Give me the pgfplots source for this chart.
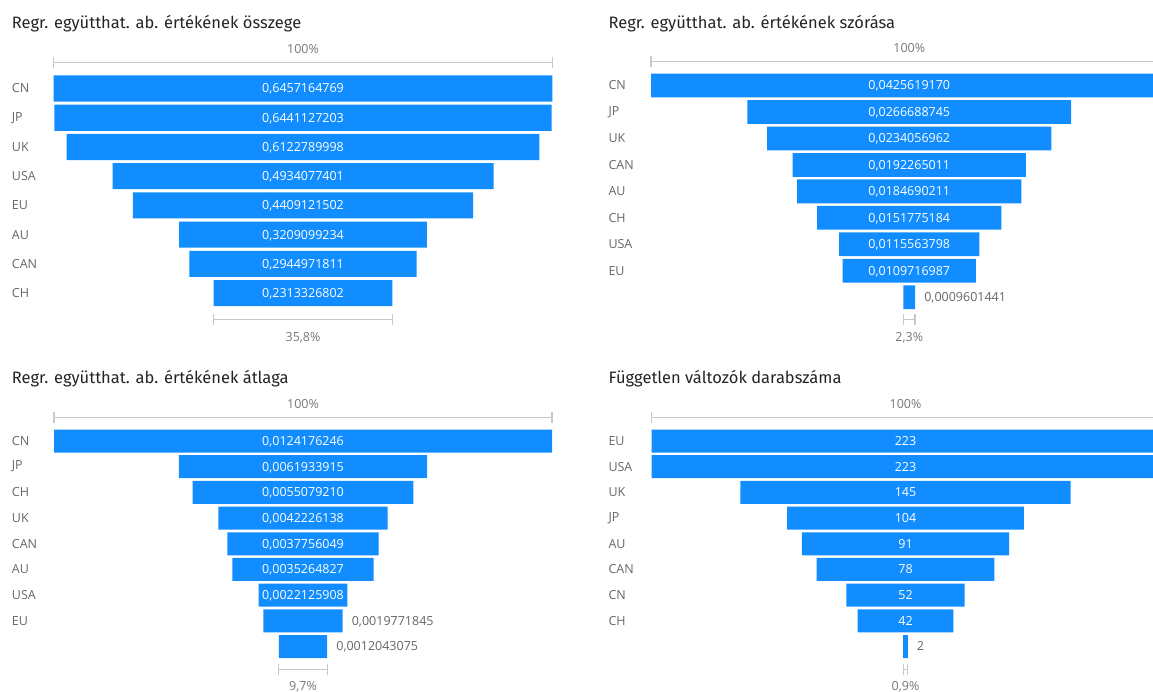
\documentclass[border=0pt]{standalone}
\usepackage{pgfplots}
\pgfplotsset{compat=1.18}
\usepackage{pgfplotstable}
\usepackage{fontspec}
\setmainfont{Open Sans}
\newfontfamily\titlefont{Fira Sans}

\definecolor{pbblue}{HTML}{118DFF}
\definecolor{titlegray}{HTML}{252423}
\definecolor{catgray}{HTML}{666666}
\definecolor{pctgray}{HTML}{777777}
\definecolor{brkgray}{HTML}{C8C8C8}

\newcommand\lbl{\fontsize{12.5pt}{14pt}\selectfont}
\newcommand\ttl{\titlefont\fontsize{16.5pt}{19pt}\selectfont}

% Sum of absolute regression coefficients
\pgfplotstableread{
cat v lbl
CN  0.6457164769 0,6457164769
JP  0.6441127203 0,6441127203
UK  0.6122789998 0,6122789998
USA 0.4934077401 0,4934077401
EU  0.4409121502 0,4409121502
AU  0.3209099234 0,3209099234
CAN 0.2944971811 0,2944971811
CH  0.2313326802 0,2313326802
}\tblsum

% Standard deviation of absolute regression coefficients
\pgfplotstableread{
cat v lbl
CN  0.0425619170 0,0425619170
JP  0.0266688745 0,0266688745
UK  0.0234056962 0,0234056962
CAN 0.0192265011 0,0192265011
AU  0.0184690211 0,0184690211
CH  0.0151775184 0,0151775184
USA 0.0115563798 0,0115563798
EU  0.0109716987 0,0109716987
{}  0.0009601441 0,0009601441
}\tblsd

% Mean of absolute regression coefficients
\pgfplotstableread{
cat v lbl
CN  0.0124176246 0,0124176246
JP  0.0061933915 0,0061933915
CH  0.0055079210 0,0055079210
UK  0.0042226138 0,0042226138
CAN 0.0037756049 0,0037756049
AU  0.0035264827 0,0035264827
USA 0.0022125908 0,0022125908
EU  0.0019771845 0,0019771845
{}  0.0012043075 0,0012043075
}\tblavg

% Number of independent variables
\pgfplotstableread{
cat v lbl
EU  223 223
USA 223 223
UK  145 145
JP  104 104
AU  91  91
CAN 78  78
CN  52  52
CH  42  42
{}  2   2
}\tblcnt

% the widest stage of each funnel is its first row
\pgfplotstablegetelem{0}{v}\of\tblsum \let\maxsum\pgfplotsretval
\pgfplotstablegetelem{0}{v}\of\tblsd  \let\maxsd\pgfplotsretval
\pgfplotstablegetelem{0}{v}\of\tblavg \let\maxavg\pgfplotsretval
\pgfplotstablegetelem{0}{v}\of\tblcnt \let\maxcnt\pgfplotsretval

\pgfplotsset{
  funnel/.style={
    scale only axis, anchor=north west,
    y dir=reverse,
    axis line style={draw=none},
    xtick=\empty,
    major tick length=0pt,
    xmin=0, xmax=#1,
    yticklabel style={anchor=west, inner sep=0pt, font=\lbl, text=catgray},
    clip=false,
  },
  % invisible spacer that centres each stage
  spacer/.style={xbar, stack plots=x, bar shift=0pt, draw=none, fill=none, forget plot},
  stage/.style={xbar, stack plots=x, bar shift=0pt, fill=pbblue, draw=none, forget plot},
  inlabel/.style={only marks, mark=none, forget plot, stack plots=false, nodes near coords,
    point meta=explicit symbolic,
    nodes near coords style={anchor=base, yshift=-4.4pt, text=white, font=\lbl, inner sep=0pt}},
  outlabel/.style={only marks, mark=none, forget plot, stack plots=false, nodes near coords,
    point meta=explicit symbolic,
    nodes near coords style={anchor=base west, xshift=9pt, yshift=-4.4pt, text=catgray, font=\lbl, inner sep=0pt}},
}
\tikzset{
  brk/.style={draw=brkgray, line width=1.2pt},
  pct/.style={font=\lbl, text=pctgray, inner sep=0pt},
}

\begin{document}
\begin{tikzpicture}
\useasboundingbox (0pt,0pt) rectangle (1153pt,-691pt);
\clip (0pt,0pt) rectangle (1153pt,-691pt);

% titles
\node[anchor=base west, inner sep=0pt, text=titlegray, font=\ttl] at (11.7pt,-28.3pt) {Regr. együtthat. ab. értékének összege};
\node[anchor=base west, inner sep=0pt, text=titlegray, font=\ttl] at (608.3pt,-28.3pt) {Regr. együtthat. ab. értékének szórása};
\node[anchor=base west, inner sep=0pt, text=titlegray, font=\ttl] at (11.7pt,-383.5pt) {Regr. együtthat. ab. értékének átlaga};
\node[anchor=base west, inner sep=0pt, text=titlegray, font=\ttl] at (608.3pt,-383.5pt) {Független változók darabszáma};

% ---- sum ----
\begin{axis}[funnel=\maxsum, at={(53.7pt,-62.3pt)}, width=498.6pt, height=257.2pt,
  ymin=0.104, ymax=8.9,
  ytick={1,...,8}, yticklabels from table={\tblsum}{cat},
  yticklabel style={xshift=-42pt}]
\addplot[spacer, bar width=0.89] table[x expr=(\maxsum-\thisrow{v})/2, y expr=\coordindex+1] {\tblsum};
\addplot[stage, bar width=0.89] table[x=v, y expr=\coordindex+1] {\tblsum};
\addplot[inlabel] table[x expr=\maxsum/2, y expr=\coordindex+1, meta=lbl] {\tblsum};
\draw[brk] (axis cs:0,0.104) -- (axis cs:\maxsum,0.104);
\draw[brk] (axis cs:0,0.104) ++(0pt,5.5pt) -- ++(0pt,-11pt);
\draw[brk] (axis cs:\maxsum,0.104) ++(0pt,5.5pt) -- ++(0pt,-11pt);
\node[pct, anchor=base, yshift=9pt] at (axis cs:\maxsum/2,0.104) {100\%};
\draw[brk] (axis cs:0.2072057984,8.9) -- (axis cs:0.4385384786,8.9);
\draw[brk] (axis cs:0.2072057984,8.9) ++(0pt,5.5pt) -- ++(0pt,-11pt);
\draw[brk] (axis cs:0.4385384786,8.9) ++(0pt,5.5pt) -- ++(0pt,-11pt);
\node[pct, anchor=base, yshift=-21.7pt] at (axis cs:\maxsum/2,8.9) {35,8\%};
\end{axis}

% ---- standard deviation ----
\begin{axis}[funnel=\maxsd, at={(651pt,-61.7pt)}, width=516.5pt, height=258pt,
  ymin=0.1, ymax=9.85,
  ytick={1,...,9}, yticklabels from table={\tblsd}{cat},
  yticklabel style={xshift=-42.7pt}]
\addplot[spacer, bar width=0.9] table[x expr=(\maxsd-\thisrow{v})/2, y expr=\coordindex+1] {\tblsd};
\addplot[stage, bar width=0.9] table[x=v, y expr=\coordindex+1] {\tblsd};
\addplot[inlabel, skip coords between index={8}{9}] table[x expr=\maxsd/2, y expr=\coordindex+1, meta=lbl] {\tblsd};
\addplot[outlabel, skip coords between index={0}{8}] table[x expr=(\maxsd+\thisrow{v})/2, y expr=\coordindex+1, meta=lbl] {\tblsd};
\draw[brk] (axis cs:0,0.1) -- (axis cs:\maxsd,0.1);
\draw[brk] (axis cs:0,0.1) ++(0pt,5.5pt) -- ++(0pt,-11pt);
\draw[brk] (axis cs:\maxsd,0.1) ++(0pt,5.5pt) -- ++(0pt,-11pt);
\node[pct, anchor=base, yshift=9pt] at (axis cs:\maxsd/2,0.1) {100\%};
\draw[brk] (axis cs:0.02080088645,9.85) -- (axis cs:0.02176103055,9.85);
\draw[brk] (axis cs:0.02080088645,9.85) ++(0pt,5.5pt) -- ++(0pt,-11pt);
\draw[brk] (axis cs:0.02176103055,9.85) ++(0pt,5.5pt) -- ++(0pt,-11pt);
\node[pct, anchor=base, yshift=-21.7pt] at (axis cs:\maxsd/2,9.85) {2,3\%};
\end{axis}

% ---- mean ----
\begin{axis}[funnel=\maxavg, at={(54pt,-417.3pt)}, width=498pt, height=252.5pt,
  ymin=0.078, ymax=9.905,
  ytick={1,...,9}, yticklabels from table={\tblavg}{cat},
  yticklabel style={xshift=-42.3pt}]
\addplot[spacer, bar width=0.895] table[x expr=(\maxavg-\thisrow{v})/2, y expr=\coordindex+1] {\tblavg};
\addplot[stage, bar width=0.895] table[x=v, y expr=\coordindex+1] {\tblavg};
\addplot[inlabel, skip coords between index={7}{9}] table[x expr=\maxavg/2, y expr=\coordindex+1, meta=lbl] {\tblavg};
\addplot[outlabel, skip coords between index={0}{7}] table[x expr=(\maxavg+\thisrow{v})/2, y expr=\coordindex+1, meta=lbl] {\tblavg};
\draw[brk] (axis cs:0,0.078) -- (axis cs:\maxavg,0.078);
\draw[brk] (axis cs:0,0.078) ++(0pt,5.5pt) -- ++(0pt,-11pt);
\draw[brk] (axis cs:\maxavg,0.078) ++(0pt,5.5pt) -- ++(0pt,-11pt);
\node[pct, anchor=base, yshift=9pt] at (axis cs:\maxavg/2,0.078) {100\%};
\draw[brk] (axis cs:0.00560665855,9.905) -- (axis cs:0.00681096605,9.905);
\draw[brk] (axis cs:0.00560665855,9.905) ++(0pt,5.5pt) -- ++(0pt,-11pt);
\draw[brk] (axis cs:0.00681096605,9.905) ++(0pt,5.5pt) -- ++(0pt,-11pt);
\node[pct, anchor=base, yshift=-20.5pt] at (axis cs:\maxavg/2,9.905) {9,7\%};
\end{axis}

% ---- count ----
\begin{axis}[funnel=\maxcnt, at={(651.5pt,-417.3pt)}, width=508pt, height=252.5pt,
  ymin=0.078, ymax=9.905,
  ytick={1,...,9}, yticklabels from table={\tblcnt}{cat},
  yticklabel style={xshift=-43.2pt}]
\addplot[spacer, bar width=0.895] table[x expr=(\maxcnt-\thisrow{v})/2, y expr=\coordindex+1] {\tblcnt};
\addplot[stage, bar width=0.895] table[x=v, y expr=\coordindex+1] {\tblcnt};
\addplot[inlabel, skip coords between index={8}{9}] table[x expr=\maxcnt/2, y expr=\coordindex+1, meta=lbl] {\tblcnt};
\addplot[outlabel, skip coords between index={0}{8}] table[x expr=(\maxcnt+\thisrow{v})/2, y expr=\coordindex+1, meta=lbl] {\tblcnt};
\draw[brk] (axis cs:0,0.078) -- (axis cs:\maxcnt,0.078);
\draw[brk] (axis cs:0,0.078) ++(0pt,5.5pt) -- ++(0pt,-11pt);
\draw[brk] (axis cs:\maxcnt,0.078) ++(0pt,5.5pt) -- ++(0pt,-11pt);
\node[pct, anchor=base, yshift=9pt] at (axis cs:\maxcnt/2,0.078) {100\%};
\draw[brk] (axis cs:110.5,9.905) -- (axis cs:112.5,9.905);
\draw[brk] (axis cs:110.5,9.905) ++(0pt,5.5pt) -- ++(0pt,-11pt);
\draw[brk] (axis cs:112.5,9.905) ++(0pt,5.5pt) -- ++(0pt,-11pt);
\node[pct, anchor=base, yshift=-20.5pt] at (axis cs:\maxcnt/2,9.905) {0,9\%};
\end{axis}
\end{tikzpicture}
\end{document}
